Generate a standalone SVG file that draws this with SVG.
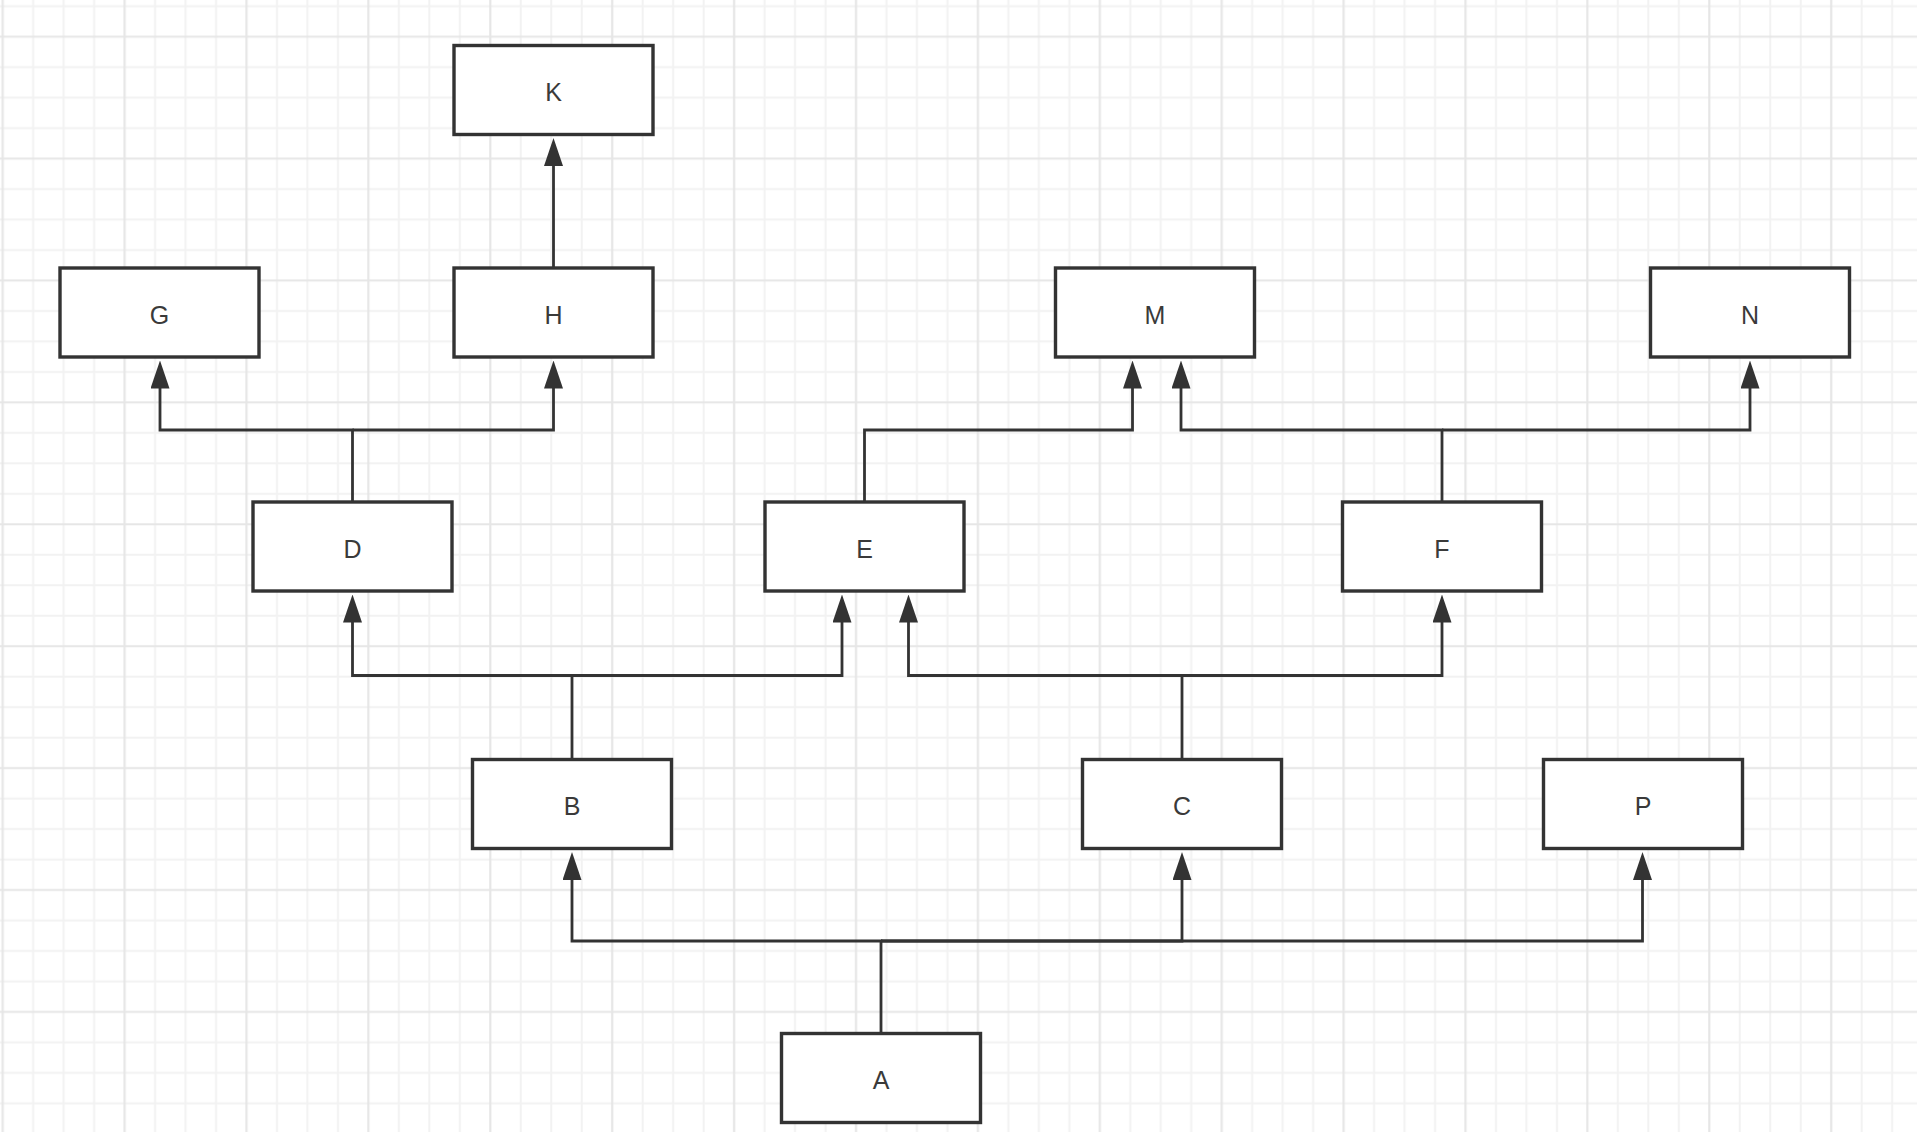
<svg xmlns="http://www.w3.org/2000/svg" width="1917" height="1132" viewBox="0 0 1917 1132">
  <style>
    .box rect { fill: #ffffff; stroke: #333333; stroke-width: 3.4; }
    .box text { font-family: "Liberation Sans", Arial, sans-serif; font-size: 25px; fill: #3a3a3a; text-anchor: middle; }
    .conn path { fill: none; stroke: #333333; stroke-width: 2.8; stroke-linejoin: miter; marker-end: url(#arrow); }
    .gmin { stroke: #f2f2f2; stroke-width: 2; }
    .gmaj { stroke: #e6e6e6; stroke-width: 2.2; }
  </style>
  <defs>
    <pattern id="grid" patternUnits="userSpaceOnUse" x="-12.54" y="21.46" width="121.9" height="121.9">
      <line class="gmin" x1="45.72" y1="0" x2="45.72" y2="121.9"/>
      <line class="gmin" x1="76.2" y1="0" x2="76.2" y2="121.9"/>
      <line class="gmin" x1="106.67" y1="0" x2="106.67" y2="121.9"/>
      <line class="gmin" x1="0" y1="45.72" x2="121.9" y2="45.72"/>
      <line class="gmin" x1="0" y1="76.2" x2="121.9" y2="76.2"/>
      <line class="gmin" x1="0" y1="106.67" x2="121.9" y2="106.67"/>
      <line class="gmaj" x1="15.24" y1="0" x2="15.24" y2="121.9"/>
      <line class="gmaj" x1="0" y1="15.24" x2="121.9" y2="15.24"/>
    </pattern>
    <marker id="arrow" markerUnits="userSpaceOnUse" viewBox="0 0 28 19" refX="1" refY="9.5" markerWidth="28" markerHeight="19" orient="auto">
      <path d="M0,0 L28,9.5 L0,19 z" fill="#333333"/>
    </marker>
  </defs>
  <rect x="0" y="0" width="1917" height="1132" fill="#ffffff"/>
  <rect x="0" y="0" width="1917" height="1132" fill="url(#grid)"/>

  <g id="connectors" class="conn">
    <path d="M553.5,268 V165"/>
    <path d="M352.5,502 V430 H160 V387.5"/>
    <path d="M352.5,430 H553.5 V387.5"/>
    <path d="M864.5,502 V430 H1132.5 V387.5"/>
    <path d="M1442,502 V430 H1181 V387.5"/>
    <path d="M1442,430 H1750 V387.5"/>
    <path d="M572,759.5 V675.5 H352.5 V621.5"/>
    <path d="M572,675.5 H842 V621.5"/>
    <path d="M1182,759.5 V675.5 H908.5 V621.5"/>
    <path d="M1182,675.5 H1442 V621.5"/>
    <path d="M881,1033.5 V941 H572 V879"/>
    <path d="M881,941 H1182 V879"/>
    <path d="M881,941 H1642.5 V879"/>
  </g>

  <g id="node-K" class="box"><rect x="454" y="45.5" width="199" height="89"/><text x="553.5" y="101">K</text></g>
  <g id="node-G" class="box"><rect x="60" y="268" width="199" height="89"/><text x="159.5" y="323.5">G</text></g>
  <g id="node-H" class="box"><rect x="454" y="268" width="199" height="89"/><text x="553.5" y="323.5">H</text></g>
  <g id="node-M" class="box"><rect x="1055.5" y="268" width="199" height="89"/><text x="1155" y="323.5">M</text></g>
  <g id="node-N" class="box"><rect x="1650.5" y="268" width="199" height="89"/><text x="1750" y="323.5">N</text></g>
  <g id="node-D" class="box"><rect x="253" y="502" width="199" height="89"/><text x="352.5" y="557.5">D</text></g>
  <g id="node-E" class="box"><rect x="765" y="502" width="199" height="89"/><text x="864.5" y="557.5">E</text></g>
  <g id="node-F" class="box"><rect x="1342.5" y="502" width="199" height="89"/><text x="1442" y="557.5">F</text></g>
  <g id="node-B" class="box"><rect x="472.5" y="759.5" width="199" height="89"/><text x="572" y="815">B</text></g>
  <g id="node-C" class="box"><rect x="1082.5" y="759.5" width="199" height="89"/><text x="1182" y="815">C</text></g>
  <g id="node-P" class="box"><rect x="1543.5" y="759.5" width="199" height="89"/><text x="1643" y="815">P</text></g>
  <g id="node-A" class="box"><rect x="781.5" y="1033.5" width="199" height="89"/><text x="881" y="1089">A</text></g>
</svg>
